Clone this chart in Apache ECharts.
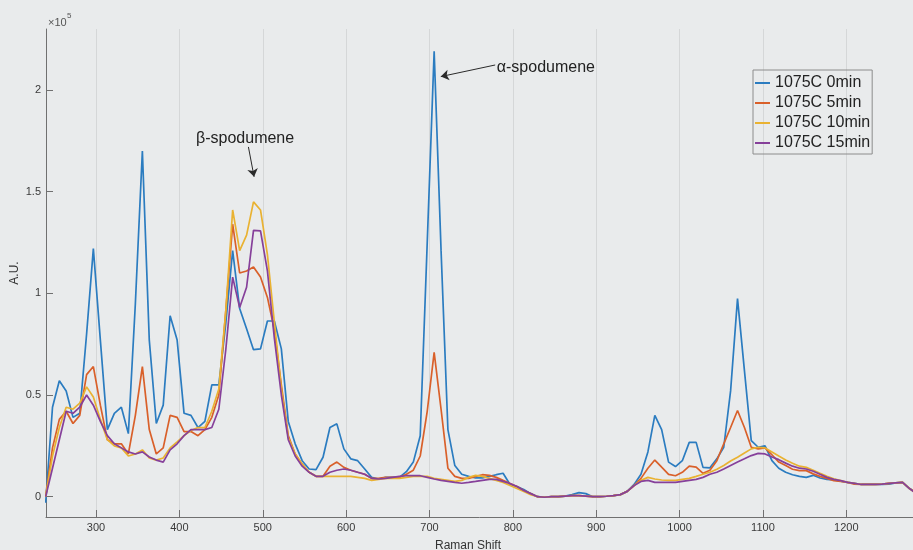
<!DOCTYPE html>
<html>
<head>
<meta charset="utf-8">
<script src="https://cdn.jsdelivr.net/npm/echarts@6/dist/echarts.min.js"></script>
<style>
html,body{margin:0;padding:0;background:#e9ebec;overflow:hidden;}
#chart{width:913px;height:550px;}
</style>
</head>
<body>
<div id="chart"></div>
<script>
// Raman shift (cm^-1) sample positions
const ramanShift = [239.6, 247.8, 256.0, 264.2, 272.4, 280.5, 288.7, 296.8, 305.2, 313.6, 322.0, 330.4, 338.8, 347.2, 355.6, 363.9, 372.3, 380.6, 388.9, 397.3, 405.6, 413.9, 422.3, 430.6, 438.9, 447.3, 455.6, 463.9, 472.3, 480.6, 488.9, 497.3, 505.6, 513.9, 522.3, 530.6, 538.9, 547.3, 555.6, 563.9, 572.3, 580.6, 588.9, 597.3, 605.6, 613.9, 622.3, 630.6, 638.9, 647.3, 655.6, 663.9, 672.3, 680.6, 688.9, 697.3, 705.6, 713.9, 722.1, 730.4, 738.7, 747.0, 755.3, 763.5, 771.8, 780.1, 788.3, 796.6, 804.9, 813.1, 821.4, 829.7, 837.9, 846.2, 854.5, 862.8, 871.0, 879.3, 887.6, 895.8, 904.1, 912.4, 920.6, 928.9, 937.2, 945.5, 953.7, 962.0, 970.3, 978.5, 986.8, 995.1, 1003.3, 1011.6, 1019.9, 1028.1, 1036.4, 1044.7, 1053.0, 1061.2, 1069.5, 1077.8, 1086.0, 1094.3, 1102.5, 1110.8, 1119.0, 1127.3, 1135.5, 1143.8, 1152.0, 1160.3, 1168.5, 1176.8, 1185.0, 1193.3, 1201.5, 1209.8, 1218.0, 1226.3, 1234.5, 1242.8, 1251.0, 1259.3, 1267.5, 1275.8, 1284.0];

// Intensities in units of 10^3 A.U.
const min0 = [-3, 44, 57, 52, 39, 41, 80, 122, 77, 33, 41, 44, 31, 95, 170, 77, 36, 45, 89, 77, 41, 40, 34, 37, 55, 55, 85, 121, 92.5, 82.6, 72.3, 72.7, 86.4, 86.4, 72.7, 37, 26, 17.7, 13.6, 13.3, 19.4, 34, 35.8, 23.5, 18.6, 17.7, 13.6, 9.5, 8.7, 9.5, 9.5, 9.5, 12.3, 17, 30, 125, 219, 121, 33, 15.3, 11, 10, 9.2, 9.2, 10, 10.8, 11.5, 6, 5, 3.5, 1.5, 0, -0.3, 0, 0, 0.3, 1, 2, 1.5, 0, 0, 0.2, 0.5, 1, 2.6, 6, 11, 22, 40, 33, 17, 14.8, 17.7, 26.7, 26.7, 14.4, 14.2, 18.6, 24.3, 52, 97.4, 62, 27.6, 24.3, 25, 17.7, 14, 12, 10.8, 10, 9.5, 10.5, 9.2, 8.5, 8.2, 7.6, 7, 6.5, 6, 6, 6, 6, 6.2, 6.8, 7, 4, 2];
const min5 = [0, 24, 38, 42, 36, 40, 60, 64, 45, 28, 26, 26, 21, 40, 64, 33, 21, 24, 40, 39, 32, 32, 30, 33, 39, 50, 91, 134, 110, 111, 113, 108, 98, 82, 55, 30, 21, 16, 12, 10, 10, 15, 17, 14.4, 13, 12, 11, 9, 9, 9.5, 9.5, 9.5, 11, 13, 20, 42, 71, 43, 14, 10, 9, 9, 10, 10.8, 10.5, 9.5, 8, 6.5, 5, 3, 1.5, 0, -0.3, 0, 0, 0.3, 0.5, 0.5, 0.3, 0, 0, 0.2, 0.5, 1, 2.6, 5.5, 9, 14, 18, 14.5, 11, 10.3, 12, 15, 14.5, 11.5, 13, 17.7, 26, 34, 42.4, 34, 24.3, 23.5, 24, 20.6, 17, 15.3, 13.5, 12.8, 12.8, 11.2, 10, 9, 7.9, 7.5, 7, 6.2, 6, 6, 6, 6.2, 6.5, 6.8, 7, 4, 2];
const min10 = [0, 20, 34, 44, 43, 46, 54, 49, 38, 28, 25, 24, 20, 21, 23, 19, 18, 19, 24, 27, 30, 32.5, 34, 34, 42, 53, 91, 141, 121, 128.6, 145, 141, 119, 86, 53, 29, 21, 16, 12, 10, 10, 10, 10, 10, 10, 9.5, 9, 8, 8.5, 9, 9, 9, 9.5, 10, 10, 10, 9, 8.5, 8, 7.5, 8, 9.5, 10.5, 10, 9, 8, 7, 5.5, 4, 2.5, 1, 0, -0.3, 0, 0, 0.3, 0.5, 0.5, 0.3, 0, 0, 0.2, 0.5, 1, 2.6, 5.5, 8, 9.5, 8.7, 8.2, 8, 8, 8.5, 9, 10, 11, 12, 13.5, 15.3, 17.5, 19.4, 21.5, 23.5, 24.3, 24, 22, 20, 18, 16.4, 15, 14.4, 13, 11.5, 10, 8.8, 7.9, 7, 6.5, 6, 6, 6, 6.2, 6.5, 6.8, 7, 4, 1.5];
const min15 = [0, 14, 28, 42, 41, 44, 50, 45, 37, 30, 26, 24, 22, 21, 22, 19.5, 18, 17, 23, 26, 30, 33, 33, 33, 34, 43, 72, 108, 93, 103, 131, 130.7, 111, 78, 50, 28, 20, 15, 12, 10, 10, 12, 13, 13.6, 13, 12, 11, 9, 8.7, 9, 9.5, 10, 10.3, 10.3, 10.3, 9.5, 8.7, 8, 7.5, 7, 6.6, 7, 7.5, 8, 8.5, 8.5, 7.5, 6.5, 5, 3, 1.5, 0, -0.3, 0, 0, 0.3, 0.5, 0.5, 0.3, 0, 0, 0.2, 0.5, 1, 2.6, 5.5, 7.5, 8, 7, 7, 7, 7, 7.5, 8, 8.5, 9.5, 11, 12, 13.6, 15.3, 17, 18.6, 20.2, 21.3, 21, 19.5, 18.2, 16.5, 15, 14, 13.6, 12.5, 11, 9.5, 8.5, 7.9, 7, 6.5, 6, 6, 6, 6.2, 6.5, 6.8, 7, 4, 1.5];

const seriesNames = ['1075C 0min', '1075C 5min', '1075C 10min', '1075C 15min'];
const xTicks = [300, 400, 500, 600, 700, 800, 900, 1000, 1100, 1200];
const yTicks = [0, 50, 100, 150, 200];

// annotation anchors in data coordinates (x: cm^-1, y: 10^3 A.U.)
const betaText = ['β-spodumene', 478.8, 175.9];
const betaArrow = [[482.8, 172], [489.6, 157.3]];
const alphaText = ['α-spodumene', 839.6, 210.8];
const alphaArrow = [[778.8, 212.3], [713.6, 206.6]];

const colors = ['#2b7cc0', '#d9602a', '#e9b232', '#86409a'];
const font = "'Liberation Sans', Arial, Helvetica, sans-serif";
const allData = [min0, min5, min10, min15];

const series = allData.map((vals, s) => ({
  name: seriesNames[s],
  type: 'line',
  data: ramanShift.map((x, i) => [x, vals[i]]),
  showSymbol: false,
  symbol: 'none',
  clip: true,
  lineStyle: { width: 1.7, color: colors[s] },
  itemStyle: { color: colors[s] },
  z: 2 + s
}));

series[3].markLine = {
  silent: true,
  symbol: ['none', 'arrow'],
  symbolSize: 8,
  label: { show: false },
  lineStyle: { color: '#2a2a2a', width: 1, type: 'solid' },
  data: [
    [{ coord: betaArrow[0] }, { coord: betaArrow[1] }],
    [{ coord: alphaArrow[0] }, { coord: alphaArrow[1] }]
  ]
};
series[3].markPoint = {
  silent: true,
  symbol: 'circle',
  symbolSize: 0,
  label: { show: true, position: 'inside', formatter: '{b}', fontSize: 16, color: '#222', fontFamily: font },
  data: [
    { name: betaText[0], coord: [betaText[1], betaText[2]] },
    { name: alphaText[0], coord: [alphaText[1], alphaText[2]] }
  ]
};

const chart = echarts.init(document.getElementById('chart'), null, { renderer: 'canvas' });
chart.setOption({
  animation: false,
  backgroundColor: '#e9ebec',
  color: colors,
  grid: { left: 46, top: 29, right: 0, bottom: 33, containLabel: false, outerBoundsMode: 'none' },
  legend: {
    data: seriesNames,
    orient: 'vertical',
    left: 753, top: 70,
    padding: [5, 2, 3, 2],
    itemGap: 4,
    itemWidth: 15,
    itemHeight: 2,
    icon: 'rect',
    borderColor: '#8c8c8c',
    borderWidth: 1,
    backgroundColor: 'transparent',
    textStyle: { fontSize: 16, lineHeight: 16, color: '#222', fontFamily: font }
  },
  xAxis: {
    type: 'value',
    min: 240, max: 1280,
    name: 'Raman Shift',
    nameLocation: 'middle',
    nameGap: 23,
    nameMoveOverlap: false,
    nameTextStyle: { fontSize: 12, color: '#333', fontFamily: font, padding: [0, 23, 0, 0] },
    axisLine: { onZero: false, lineStyle: { color: '#707070', width: 1 } },
    axisTick: { inside: true, length: 7, customValues: xTicks, lineStyle: { color: '#707070' } },
    axisLabel: { customValues: xTicks, fontSize: 11, color: '#3a3a3a', margin: 5, fontFamily: font,
      formatter: v => String(v) },
    splitLine: { show: true, lineStyle: { color: '#d5d7d8', width: 1 } }
  },
  yAxis: {
    type: 'value',
    min: -10, max: 230,
    name: 'A.U.',
    nameLocation: 'middle',
    nameGap: 25,
    nameMoveOverlap: false,
    nameTextStyle: { fontSize: 12, color: '#333', fontFamily: font },
    axisLine: { show: true, onZero: false, lineStyle: { color: '#707070', width: 1 } },
    axisTick: { show: true, inside: true, length: 7, customValues: yTicks, lineStyle: { color: '#707070' } },
    axisLabel: { customValues: yTicks, fontSize: 11, color: '#3a3a3a', margin: 5, fontFamily: font,
      formatter: v => String(v / 100) },
    splitLine: { show: false }
  },
  graphic: [
    { type: 'text', left: 48, top: 17, style: { text: '×10', fill: '#555', font: '11px ' + font } },
    { type: 'text', left: 67, top: 12, style: { text: '5', fill: '#555', font: '8px ' + font } }
  ],
  series: series
});
</script>
</body>
</html>
